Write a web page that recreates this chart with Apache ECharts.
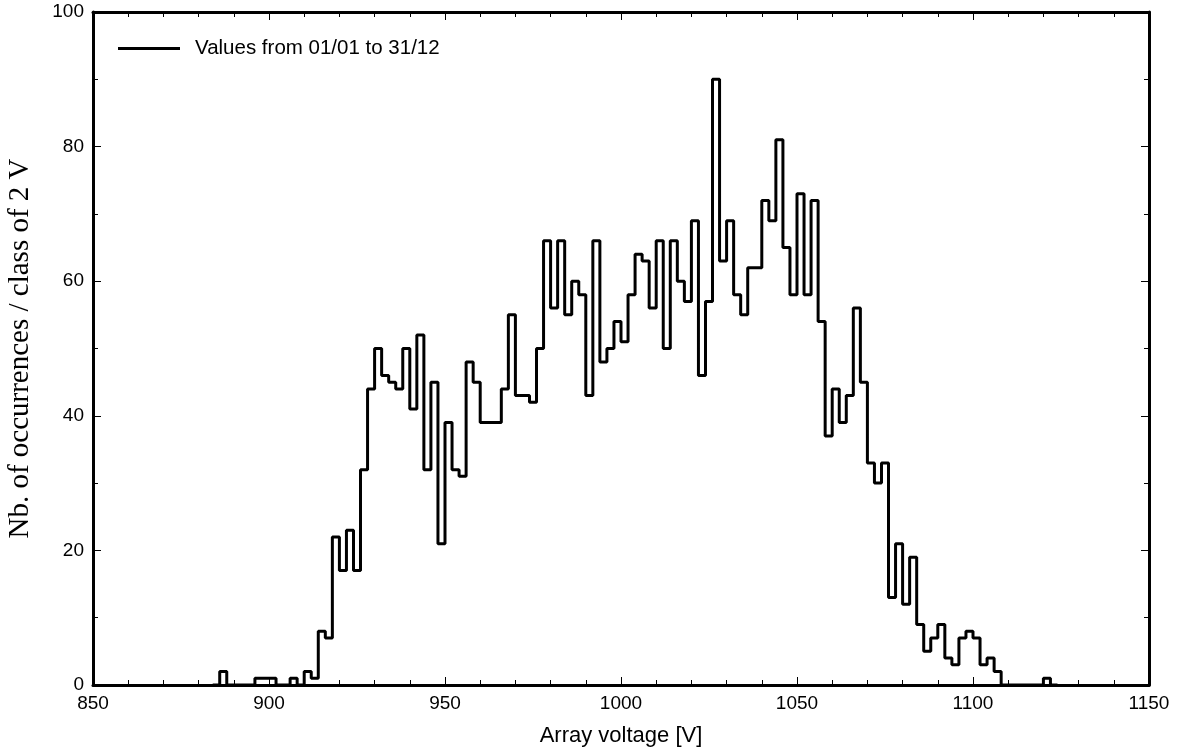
<!DOCTYPE html>
<html>
<head>
<meta charset="utf-8">
<script src="https://cdn.jsdelivr.net/npm/echarts@6/dist/echarts.min.js"></script>
<style>
html, body { margin: 0; padding: 0; background: #fff; }
#main { width: 1182px; height: 751px; }
</style>
</head>
<body>
<div id="main"></div>
<script>
// histogram, 2 V classes
var firstBin = 884;
var binWidth = 2;
var counts = [
    0, 2, 0, 0, 0, 0, 1, 1, 1, 0,          // 884 - 902
    0, 1, 0, 2, 1, 8, 7, 22, 17, 23,       // 904 - 922
    17, 32, 44, 50, 46, 45, 44, 50, 41, 52, // 924 - 942
    32, 45, 21, 39, 32, 31, 48, 45, 39, 39, // 944 - 962
    39, 44, 55, 43, 43, 42, 50, 66, 56, 66, // 964 - 982
    55, 60, 58, 43, 66, 48, 50, 54, 51, 58, // 984 - 1002
    64, 63, 56, 66, 50, 66, 60, 57, 69, 46, // 1004 - 1022
    57, 90, 63, 69, 58, 55, 62, 62, 72, 69, // 1024 - 1042
    81, 65, 58, 73, 58, 72, 54, 37, 44, 39, // 1044 - 1062
    43, 56, 45, 33, 30, 33, 13, 21, 12, 19, // 1064 - 1082
    9, 5, 7, 9, 4, 3, 7, 8, 7, 3,          // 1084 - 1102
    4, 2, 0, 0, 0, 0, 0, 0, 1, 0           // 1104 - 1122
];
var xTicks = [850, 900, 950, 1000, 1050, 1100, 1150];
var yTicks = [0, 20, 40, 60, 80, 100];
var seriesName = 'Values from 01/01 to 31/12';

(function(){
    var myChart = echarts.init(document.getElementById('main'));

    var data = [];
    for (var i = 0; i < counts.length; i++) {
        data.push([firstBin + i * binWidth, counts[i]]);
    }
    data.push([firstBin + counts.length * binWidth, 0]);

    var axisLine = { onZero: false, lineStyle: { color: '#000', width: 3 } };
    function plain(v) { return String(v); }
    function xAx(pos, showLabel) {
        return {
            type: 'value',
            position: pos,
            min: xTicks[0],
            max: xTicks[xTicks.length - 1],
            interval: xTicks[1] - xTicks[0],
            axisLine: axisLine,
            axisTick: { show: true, inside: true, length: 8, lineStyle: { color: '#000', width: 1 } },
            minorTick: { show: true, splitNumber: 5, length: 5, lineStyle: { color: '#000', width: 1 } },
            splitLine: { show: false },
            axisLabel: {
                show: showLabel, color: '#000', fontFamily: 'Liberation Sans', fontSize: 19, margin: 9,
                formatter: plain
            },
            name: showLabel ? 'Array voltage [V]' : '',
            nameLocation: 'middle',
            nameGap: 40,
            nameTextStyle: { color: '#000', fontFamily: 'Liberation Sans', fontSize: 22 }
        };
    }
    function yAx(pos, showLabel) {
        return {
            type: 'value',
            position: pos,
            min: yTicks[0],
            max: yTicks[yTicks.length - 1],
            interval: yTicks[1] - yTicks[0],
            axisLine: axisLine,
            axisTick: { show: true, inside: true, length: 8, lineStyle: { color: '#000', width: 1 } },
            minorTick: { show: true, splitNumber: 2, length: 5, lineStyle: { color: '#000', width: 1 } },
            splitLine: { show: false },
            axisLabel: {
                show: showLabel, color: '#000', fontFamily: 'Liberation Sans', fontSize: 19, margin: 9,
                formatter: plain
            },
            name: showLabel ? 'Nb. of occurrences / class of 2 V' : '',
            nameLocation: 'middle',
            nameGap: 58,
            nameTextStyle: { color: '#000', fontFamily: 'Liberation Serif', fontSize: 29 }
        };
    }

    option = {
        animation: false,
        backgroundColor: '#fff',
        grid: { left: 93, right: 33, top: 12, bottom: 66, outerBoundsMode: 'none' },
        legend: {
            data: [seriesName],
            left: 118,
            top: 38,
            padding: 0,
            icon: 'rect',
            itemWidth: 62,
            itemHeight: 3,
            itemStyle: { color: '#000' },
            textStyle: { color: '#000', fontFamily: 'Liberation Sans', fontSize: 20.5, padding: [0, 0, 0, 10] }
        },
        xAxis: [xAx('bottom', true), xAx('top', false)],
        yAxis: [yAx('left', true), yAx('right', false)],
        series: [
            {
                name: seriesName,
                type: 'line',
                step: 'end',
                symbol: 'none',
                lineStyle: { color: '#000', width: 3 },
                itemStyle: { color: '#000' },
                data: data
            }
        ]
    };
    myChart.setOption(option);
})();
</script>
</body>
</html>
